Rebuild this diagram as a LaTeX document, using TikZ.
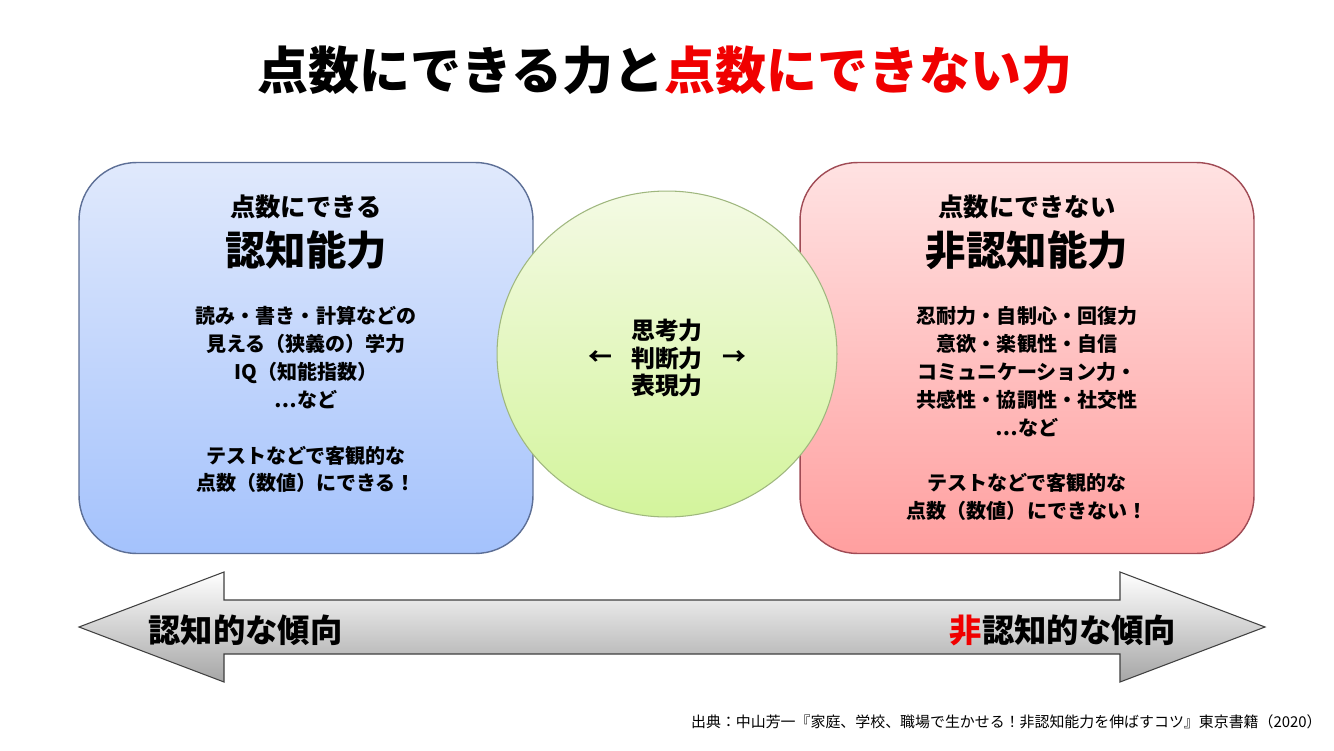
\documentclass[tikz,border=0pt]{standalone}
\usepackage{fontspec}
\usepackage{xcolor}
\usepackage{tikz}
\usetikzlibrary{shapes.geometric, positioning, calc}
\newfontfamily\jpfont{Noto Sans CJK JP}
\definecolor{cogtop}{HTML}{E0E9FC}
\definecolor{cogbot}{HTML}{A4C2FC}
\definecolor{cogline}{HTML}{5D6F96}
\definecolor{nctop}{HTML}{FFE2E2}
\definecolor{ncbot}{HTML}{FF9F9F}
\definecolor{ncline}{HTML}{A04B55}
\definecolor{brtop}{HTML}{F4FAE4}
\definecolor{brbot}{HTML}{D3F49C}
\definecolor{brline}{HTML}{9FB77E}
\definecolor{accent}{HTML}{F00000}
\tikzset{
  skillbox/.style={
    rectangle, rounded corners=1.15cm,
    minimum width=9.08cm, minimum height=7.82cm,
    line width=0.8pt,
  },
  cogbox/.style={skillbox, draw=cogline, top color=cogtop, bottom color=cogbot},
  noncogbox/.style={skillbox, draw=ncline, top color=nctop, bottom color=ncbot},
  bridge/.style={
    ellipse, minimum width=6.8cm, minimum height=6.52cm,
    draw=brline, line width=0.6pt,
    top color=brtop, bottom color=brbot,
  },
  titletext/.style={font=\jpfont\bfseries\fontsize{29}{34}\selectfont, inner sep=0pt},
  headtext/.style={font=\jpfont\bfseries\fontsize{14.4}{17}\selectfont, inner sep=0pt},
  nametext/.style={font=\jpfont\bfseries\fontsize{23}{27}\selectfont, inner sep=0pt},
  bodytext/.style={font=\jpfont\bfseries\fontsize{11.4}{15.9}\selectfont, align=center, inner sep=0pt},
  circletext/.style={font=\jpfont\bfseries\fontsize{13.6}{15.9}\selectfont, align=center, inner sep=0pt},
  trendtext/.style={font=\jpfont\bfseries\fontsize{18.4}{22}\selectfont, inner sep=0pt},
  sourcetext/.style={font=\jpfont\fontsize{8.5}{10}\selectfont, inner sep=0pt},
  trendarrow/.style={draw=black!75, line width=0.6pt, top color=white, bottom color=black!35},
}
\begin{document}
\begin{tikzpicture}[x=0.02cm, y=-0.02cm]
  \useasboundingbox (0,0) rectangle (1334,750);
  \fill[white] (0,0) rectangle (1334,750);

  % title
  \node[titletext] (title) at (665,70) {点数にできる力と\textcolor{accent}{点数にできない力}};

  % two boxes and the circle between them
  \node[cogbox] (cog) at (306,358) {};
  \node[noncogbox] (noncog) at (1027,358) {};
  \node[bridge] (mid) at (667,354) {};

  % left box
  \node[headtext] (coghead) at (306,207) {点数にできる};
  \node[nametext] (cogname) at (306,250) {認知能力};
  \node[bodytext] (cogbody) at (306,399.5) {読み・書き・計算などの\\見える（狭義の）学力\\IQ（知能指数）\\…など\\[15.9pt]テストなどで客観的な\\点数（数値）にできる！};

  % right box
  \node[headtext] (nchead) at (1027,207) {点数にできない};
  \node[nametext] (ncname) at (1027,250) {非認知能力};
  \node[bodytext] (ncbody) at (1027,413.5) {忍耐力・自制心・回復力\\意欲・楽観性・自信\\コミュニケーション力・\\共感性・協調性・社交性\\…など\\[15.9pt]テストなどで客観的な\\点数（数値）にできない！};

  % circle
  \node[circletext] (midtext) at (667,358) {思考力\\判断力\\表現力};
  \node[circletext, left=10.5pt of midtext] (toleft) {←};
  \node[circletext, right=10.5pt of midtext] (toright) {→};

  % bottom arrow
  \draw[trendarrow] (79,627) -- (224,572) -- (224,600) -- (1120,600) -- (1120,572)
    -- (1265,627) -- (1120,682) -- (1120,654) -- (224,654) -- (224,682) -- cycle;
  \node[trendtext] (cogtrend) at (245.5,630) {認知的な傾向};
  \node[trendtext] (nctrend) at (1063,630) {\textcolor{accent}{非}認知的な傾向};

  % source
  \node[sourcetext, anchor=east] (source) at (1322,722) {出典：中山芳一『家庭、学校、職場で生かせる！非認知能力を伸ばすコツ』東京書籍（2020）};
\end{tikzpicture}
\end{document}
